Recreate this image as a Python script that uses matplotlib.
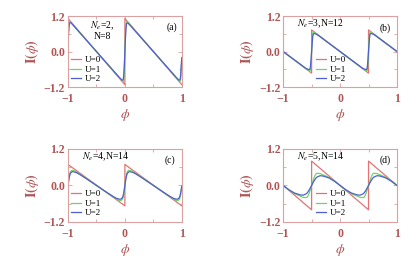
import numpy as np
import matplotlib
matplotlib.use("Agg")
import matplotlib.pyplot as plt
from matplotlib.ticker import FixedLocator

plt.rcParams['font.family'] = ['Liberation Serif', 'DejaVu Serif']
plt.rcParams['mathtext.fontset'] = 'stix'

# ── data ──────────────────────────────────────────────────────────────────────
labels = ["U=0", "U=1", "U=2"]

# (a) Ne=2, N=8
a_phi_u0 = [-1, 0, 0, 1]
a_I_u0   = [1.12, -1.12, 1.12, -1.12]
a_phi_u1 = [-1, -0.99, -0.98, -0.97, -0.95, -0.9, -0.5, -0.1, -0.05, -0.03, -0.02, -0.01, 0,
            0.01, 0.02, 0.03, 0.05, 0.1, 0.5, 0.9, 0.95, 0.97, 0.98, 0.99, 1]
a_I_u1   = [0.3, 0.75, 0.97, 1.02, 0.99, 0.88, 0.0, -0.88, -0.99, -1.02, -0.95, -0.6, 0.0,
            0.6, 0.95, 1.02, 0.99, 0.88, 0.0, -0.88, -0.99, -1.02, -0.95, -0.6, -0.25]
a_phi_u2 = a_phi_u1
a_I_u2   = [0.25, 0.6, 0.88, 0.97, 0.98, 0.87, 0.0, -0.87, -0.97, -0.95, -0.8, -0.45, 0.0,
            0.45, 0.8, 0.95, 0.97, 0.87, 0.0, -0.87, -0.97, -0.95, -0.8, -0.45, -0.2]

# (b) Ne=3, N=12
b_phi_u0 = [-1, -0.5, -0.5, 0.5, 0.5, 1]
b_I_u0   = [0.0, -0.73, 0.73, -0.73, 0.73, 0.0]
b_phi_u1 = [-1, -0.6, -0.55, -0.53, -0.52, -0.51, -0.5, -0.49, -0.48, -0.47, -0.45, -0.4, 0,
            0.4, 0.45, 0.47, 0.48, 0.49, 0.5, 0.51, 0.52, 0.53, 0.55, 0.6, 1]
b_I_u1   = [0.0, -0.58, -0.64, -0.66, -0.62, -0.4, 0.0, 0.4, 0.62, 0.66, 0.64, 0.58, 0.0,
            -0.58, -0.64, -0.66, -0.62, -0.4, 0.0, 0.4, 0.62, 0.66, 0.64, 0.58, 0.0]
b_phi_u2 = b_phi_u1
b_I_u2   = [0.0, -0.57, -0.61, -0.6, -0.5, -0.28, 0.0, 0.28, 0.5, 0.6, 0.61, 0.57, 0.0,
            -0.57, -0.61, -0.6, -0.5, -0.28, 0.0, 0.28, 0.5, 0.6, 0.61, 0.57, 0.0]

# (c) Ne=4, N=14
c_phi_u0 = [-1, 0, 0, 1]
c_I_u0   = [0.69, -0.67, 0.69, -0.67]
c_phi_u1 = [-1, -0.98, -0.96, -0.93, -0.9, -0.85, -0.8, -0.7, -0.5, -0.3, -0.2, -0.15, -0.1,
            -0.07, -0.04, -0.02, 0, 0.02, 0.04, 0.07, 0.1, 0.15, 0.2, 0.3, 0.5, 0.7, 0.8,
            0.85, 0.9, 0.93, 0.96, 0.98, 1]
c_I_u1   = [0.0, 0.3, 0.45, 0.5, 0.49, 0.44, 0.38, 0.26, 0.0, -0.26, -0.38, -0.44, -0.49,
            -0.5, -0.45, -0.3, 0.0, 0.3, 0.45, 0.5, 0.49, 0.44, 0.38, 0.26, 0.0, -0.26, -0.38,
            -0.44, -0.49, -0.5, -0.45, -0.3, -0.02]
c_phi_u2 = c_phi_u1
c_I_u2   = [0.0, 0.25, 0.39, 0.45, 0.45, 0.42, 0.37, 0.25, 0.0, -0.25, -0.37, -0.42, -0.45,
            -0.45, -0.39, -0.25, 0.0, 0.25, 0.39, 0.45, 0.45, 0.42, 0.37, 0.25, 0.0, -0.25, -0.37,
            -0.42, -0.45, -0.45, -0.39, -0.25, -0.02]

# (d) Ne=5, N=14
d_phi_u0 = [-1, -0.5, -0.5, 0.5, 0.5, 1]
d_I_u0   = [0.0, -0.8, 0.8, -0.8, 0.8, 0.0]
d_phi_u1 = [-1, -0.9, -0.8, -0.7, -0.65, -0.6, -0.58, -0.56, -0.54, -0.52, -0.5, -0.48, -0.46,
            -0.44, -0.42, -0.4, -0.35, -0.3, -0.2, -0.1, 0, 0.1, 0.2, 0.3, 0.35, 0.4, 0.42, 0.44,
            0.46, 0.48, 0.5, 0.52, 0.54, 0.56, 0.58, 0.6, 0.65, 0.7, 0.8, 0.9, 1]
d_I_u1   = [0.0, -0.15, -0.27, -0.35, -0.39, -0.4, -0.39, -0.33, -0.24, -0.12, 0.0, 0.12, 0.24,
            0.33, 0.39, 0.4, 0.39, 0.35, 0.27, 0.15, 0.0, -0.15, -0.27, -0.35, -0.39, -0.4, -0.39,
            -0.33, -0.24, -0.12, 0.0, 0.12, 0.24, 0.33, 0.39, 0.4, 0.39, 0.35, 0.27, 0.15, 0.0]
d_phi_u2 = d_phi_u1
d_I_u2   = [0.0, -0.14, -0.25, -0.31, -0.32, -0.28, -0.25, -0.2, -0.14, -0.07, 0.0, 0.07, 0.14,
            0.2, 0.25, 0.28, 0.32, 0.31, 0.25, 0.14, 0.0, -0.14, -0.25, -0.31, -0.32, -0.28, -0.25,
            -0.2, -0.14, -0.07, 0.0, 0.07, 0.14, 0.2, 0.25, 0.28, 0.32, 0.31, 0.25, 0.14, 0.0]

panels = [
    ("(a)", [(a_phi_u0, a_I_u0), (a_phi_u1, a_I_u1), (a_phi_u2, a_I_u2)]),
    ("(b)", [(b_phi_u0, b_I_u0), (b_phi_u1, b_I_u1), (b_phi_u2, b_I_u2)]),
    ("(c)", [(c_phi_u0, c_I_u0), (c_phi_u1, c_I_u1), (c_phi_u2, c_I_u2)]),
    ("(d)", [(d_phi_u0, d_I_u0), (d_phi_u1, d_I_u1), (d_phi_u2, d_I_u2)]),
]
notes = [r"$N_e$=2,", r"$N_e$=3,N=12", r"$N_e$=4,N=14", r"$N_e$=5,N=14"]

colors = ["#e47272", "#6fd46f", "#4f5fcf"]
lab_col = "#b05555"
spine_col = "#dba0a0"

# ── figure ────────────────────────────────────────────────────────────────────
fig = plt.figure(figsize=(4.17, 2.59), dpi=100)
boxes = [(0.163, 0.664, 0.273, 0.274), (0.679, 0.664, 0.273, 0.274),
         (0.163, 0.143, 0.273, 0.282), (0.679, 0.143, 0.273, 0.282)]

for i, ((tag, curves), box) in enumerate(zip(panels, boxes)):
    ax = fig.add_axes(box)
    for (x, y), c, lab in zip(curves, colors, labels):
        ax.plot(x, y, color=c, lw=0.9, label=lab)
    ax.set_xlim(-1, 1)
    ax.set_ylim(-1.2, 1.2)
    ax.set_xticks([-1, 0, 1])
    ax.set_xticklabels(["\u22121", "0", "1"])
    ax.set_yticks([-1.2, 0.0, 1.2])
    ax.set_yticklabels(["\u22121.2", "0.0", "1.2"])
    ax.xaxis.set_minor_locator(FixedLocator([-0.5, 0.5]))
    ax.yaxis.set_minor_locator(FixedLocator([-0.6, 0.6]))
    ax.tick_params(which="both", direction="in", top=True, right=True,
                   color=spine_col, width=0.6)
    ax.tick_params(which="major", length=3, labelsize=8.5, labelcolor=lab_col)
    ax.tick_params(axis="y", which="major", pad=2)
    ax.tick_params(axis="x", which="major", pad=4)
    ax.tick_params(which="minor", length=2)
    for t in ax.get_xticklabels() + ax.get_yticklabels():
        t.set_fontweight("bold")
    for s in ax.spines.values():
        s.set_color(spine_col)
        s.set_linewidth(0.8)
    ax.set_ylabel(r"$\mathbf{I(}\phi\mathbf{)}$", color=lab_col, fontsize=10, labelpad=2)
    ax.set_xlabel(r"$\phi$", color=lab_col, fontsize=10, labelpad=2)

    lx = 0.03 if i in (0, 2) else 0.29
    ax.legend(loc="upper left", bbox_to_anchor=(lx, 0.44), frameon=False,
              fontsize=6.5, handlelength=1.1, handletextpad=0.4,
              labelspacing=0.15, borderpad=0, borderaxespad=0)

    if i == 0:
        ax.text(0.30, 0.86, notes[0], transform=ax.transAxes, fontsize=7,
                ha="center", va="center")
        ax.text(0.30, 0.71, "N=8", transform=ax.transAxes, fontsize=7,
                ha="center", va="center")
        ax.text(0.91, 0.85, tag, transform=ax.transAxes, fontsize=7,
                ha="center", va="center")
    else:
        ax.text(0.12, 0.89, notes[i], transform=ax.transAxes, fontsize=7,
                ha="left", va="center")
        ax.text(0.895, 0.83 if i == 1 else 0.85, tag, transform=ax.transAxes,
                fontsize=7, ha="center", va="center")

fig.savefig("out.png", dpi=100)
